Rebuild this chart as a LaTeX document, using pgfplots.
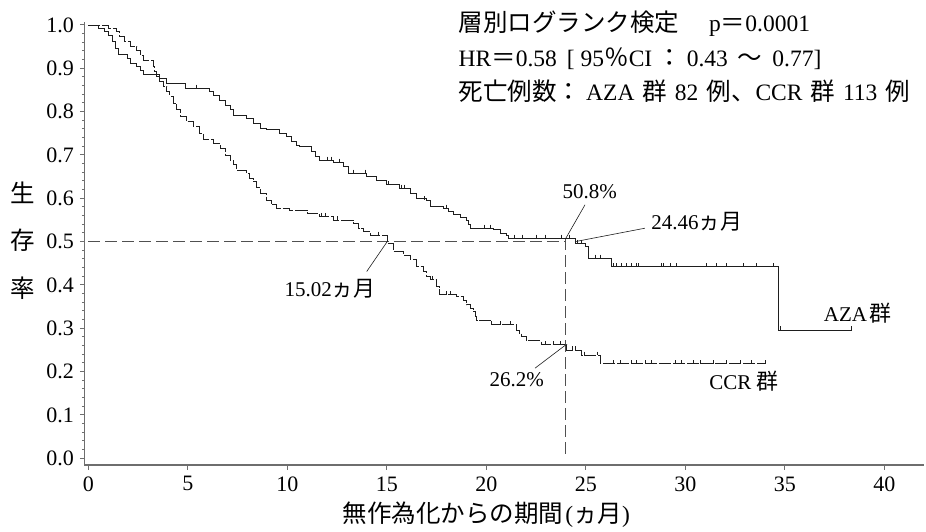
\documentclass[border=0pt]{standalone}
\usepackage{fontspec}
\setmainfont{Liberation Serif}
\newfontfamily\jp[Scale=1.043]{Noto Sans CJK JP}
\usepackage{pgfplots}
\pgfplotsset{compat=1.18}
\definecolor{axgray}{HTML}{6E6E6E}
\definecolor{refgray}{HTML}{505050}
\definecolor{crv}{HTML}{1E1E1E}

\pgfplotstableread{
t v
0 1.0
0.5 0.992
0.8 0.985
1.0 0.975
1.2 0.962
1.35 0.946
1.5 0.931
1.95 0.923
2.1 0.912
2.43 0.904
2.6 0.896
2.76 0.885
3.6 0.877
3.94 0.865
4.86 0.854
6.1 0.846
6.3 0.838
6.6 0.827
6.9 0.815
7.12 0.804
7.29 0.792
7.96 0.785
8.3 0.773
8.63 0.762
8.96 0.758
9.63 0.75
9.97 0.742
10.2 0.731
10.47 0.723
10.6 0.719
11.2 0.708
11.4 0.696
11.6 0.688
12.3 0.683
12.81 0.673
13.07 0.658
14.0 0.65
14.49 0.642
15.0 0.631
15.66 0.623
16.17 0.612
16.5 0.6
17.0 0.596
17.17 0.581
17.84 0.577
18.1 0.569
18.34 0.562
18.7 0.556
19.01 0.55
19.1 0.54
19.18 0.531
20.35 0.527
20.7 0.52
21.02 0.515
21.11 0.508
24.46 0.496
25.0 0.488
25.13 0.462
26.3 0.442
34.67 0.296
38.36 0.296
}\aza

\pgfplotstableread{
t v
5.45 0.854
12.0 0.688
12.2 0.688
12.6 0.683
13.3 0.658
13.9 0.658
15.1 0.631
15.75 0.623
15.9 0.623
16.9 0.596
18.0 0.577
19.9 0.531
20.2 0.531
21.4 0.508
21.8 0.508
22.5 0.508
22.95 0.508
23.75 0.508
24.15 0.508
24.6 0.496
24.8 0.496
25.46 0.462
25.71 0.462
26.38 0.442
26.55 0.442
26.8 0.442
27.05 0.442
27.3 0.442
27.55 0.442
27.64 0.442
28.81 0.442
28.9 0.442
29.23 0.442
29.57 0.442
31.07 0.442
31.58 0.442
32.08 0.442
32.92 0.442
33.59 0.442
34.42 0.442
34.8 0.296
38.36 0.296
}\azac

\pgfplotstableread{
t v
0 1.0
1.0 0.992
1.43 0.985
1.59 0.973
1.8 0.962
2.1 0.95
2.43 0.942
2.6 0.93
2.76 0.919
3.27 0.904
3.35 0.892
3.44 0.881
3.6 0.87
3.77 0.858
3.95 0.846
4.1 0.835
4.27 0.819
4.45 0.804
4.61 0.788
4.94 0.777
5.28 0.765
5.61 0.75
5.78 0.735
6.28 0.727
6.62 0.715
6.9 0.7
7.12 0.688
7.3 0.677
7.46 0.665
7.96 0.658
8.1 0.646
8.29 0.638
8.45 0.625
8.63 0.612
8.96 0.596
9.2 0.585
9.47 0.577
10.1 0.573
11.0 0.565
11.6 0.558
12.3 0.55
13.3 0.542
13.6 0.531
13.82 0.523
14.16 0.515
15.02 0.496
15.33 0.477
15.83 0.469
16.17 0.458
16.5 0.442
16.83 0.431
17.0 0.42
17.17 0.412
17.5 0.396
17.67 0.377
18.5 0.373
18.84 0.365
19.0 0.354
19.2 0.346
19.35 0.338
19.45 0.327
19.52 0.319
20.19 0.315
20.27 0.308
21.53 0.296
21.65 0.288
21.78 0.281
22.03 0.271
22.78 0.262
24.04 0.25
24.79 0.238
25.72 0.218
34.0 0.218
}\ccr

\pgfplotstableread{
t v
11.7 0.558
11.9 0.558
12.5 0.55
14.6 0.515
17.3 0.412
18.0 0.377
18.2 0.377
20.7 0.308
21.2 0.308
22.95 0.262
23.37 0.262
23.7 0.262
24.3 0.25
24.45 0.25
24.95 0.238
25.6 0.238
26.38 0.218
26.72 0.218
27.3 0.218
27.55 0.218
27.97 0.218
28.31 0.218
29.48 0.218
29.82 0.218
30.4 0.218
30.74 0.218
31.41 0.218
32.08 0.218
32.75 0.218
33.34 0.218
34.0 0.218
}\ccrc

\newcommand\ann{\fontsize{21}{25}\selectfont}
\newcommand\ttl{\fontsize{23.5}{28}\selectfont}

\begin{document}
\begin{tikzpicture}
\path[use as bounding box] (-84.3pt,-66pt) rectangle (841.7pt,465pt);
\begin{axis}[
  at={(0,0)}, anchor=south west,
  scale only axis, width=839.8pt, height=443.3pt,
  xmin=-0.2, xmax=42.0, ymin=-0.0155, ymax=1.0076,
  axis x line*=bottom, axis y line*=left,
  axis line style={axgray, line width=1.3pt},
  xtick={0,5,...,40}, ytick={0,0.1,...,1.0},
  minor y tick num=4,
  tick align=outside,
  major tick length=4.5pt, minor tick length=2.5pt,
  every tick/.style={axgray, line width=1pt},
  tick label style={font=\fontsize{22}{26}\selectfont, text=black},
  /pgf/number format/assume math mode=true,
  yticklabel style={xshift=-2.5pt, /pgf/number format/.cd, fixed, fixed zerofill, precision=1},
  xticklabel style={yshift=-3.5pt, /pgf/number format/.cd, fixed, precision=0},
  clip=false,
]
\addplot[refgray, line width=0.9pt, dash pattern=on 12pt off 5pt] coordinates {(0,0.5) (24,0.5)};
\addplot[refgray, line width=0.9pt, dash pattern=on 12pt off 5pt] coordinates {(24,0.508) (24,0)};
\addplot[const plot, crv, line width=0.9pt] table {\aza};
\addplot[only marks, mark=|, mark size=1.8pt, crv, line width=0.7pt, mark options={yshift=1.8pt}] table {\azac};
\addplot[const plot, crv, line width=0.9pt, dash pattern=on 12pt off 2pt] table {\ccr};
\addplot[only marks, mark=|, mark size=1.8pt, crv, line width=0.7pt, mark options={solid, yshift=1.8pt}] table {\ccrc};
% annotations
\draw[crv, line width=0.6pt] (axis cs:24.96,0.585) -- (axis cs:24,0.508);
\draw[crv, line width=0.6pt] (axis cs:27.97,0.531) -- (axis cs:24.46,0.5);
\draw[crv, line width=0.6pt] (axis cs:13.99,0.431) -- (axis cs:15.02,0.5);
\draw[crv, line width=0.6pt] (axis cs:22.45,0.208) -- (axis cs:24,0.262);
\node[font=\ann] at (axis cs:25.2,0.615) {50.8\%};
\node[font=\ann] at (axis cs:30.58,0.546) {24.46{\jp ヵ月}};
\node[font=\ann] at (axis cs:12.15,0.391) {15.02{\jp ヵ月}};
\node[font=\ann] at (axis cs:21.53,0.181) {26.2\%};
\node[font=\ann] at (axis cs:38.65,0.335) {AZA\hspace{2pt}{\jp 群}};
\node[font=\ann] at (axis cs:32.95,0.177) {CCR {\jp 群}};
\node[font=\ttl, anchor=base west, inner sep=0pt] at (axis cs:18.6,0.984) {{\jp 層別ログランク検定}\hspace{30pt}p{\jp ＝}0.0001};
\node[font=\ttl, anchor=base west, inner sep=0pt] at (axis cs:18.6,0.905) {HR{\jp ＝}0.58\hspace{10pt}[\hspace{6pt}95{\jp ％}CI\hspace{5pt}{\jp ：}\hspace{5pt}0.43\hspace{10pt}{\jp 〜}\hspace{10pt}0.77]};
\node[font=\ttl, anchor=base west, inner sep=0pt] at (axis cs:18.6,0.826) {{\jp 死亡例数：}\hspace{5pt}AZA\hspace{8pt}{\jp 群}\hspace{8pt}82\hspace{8pt}{\jp 例、}CCR\hspace{8pt}{\jp 群}\hspace{8pt}113\hspace{8pt}{\jp 例}};
\node[font=\fontsize{23.5}{28}\selectfont\jp] at (axis cs:-3.31,0.612) {生};
\node[font=\fontsize{23.5}{28}\selectfont\jp] at (axis cs:-3.31,0.504) {存};
\node[font=\fontsize{23.5}{28}\selectfont\jp] at (axis cs:-3.31,0.393) {率};
\node[font=\fontsize{23.5}{28}\selectfont] at (axis cs:20.0,-0.13) {{\jp 無作為化からの期間}\hspace{2pt}({\jp ヵ月})};
\end{axis}
\end{tikzpicture}
\end{document}
